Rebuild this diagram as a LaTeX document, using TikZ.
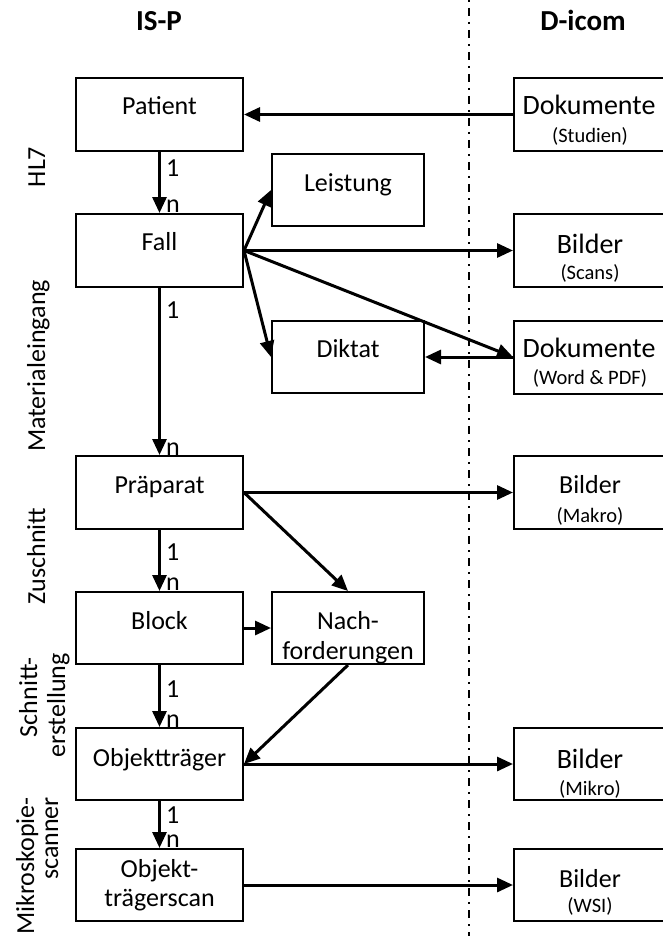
\documentclass[tikz,border=0pt]{standalone}
\usepackage{fontspec}
\setmainfont{Carlito}
\usetikzlibrary{arrows.meta,calc}
\begin{document}
\begin{tikzpicture}[x=1pt,y=-1pt,
  boxL/.style={draw, line width=2pt, minimum width=167pt, minimum height=73pt, inner sep=0pt},
  boxM/.style={draw, line width=2pt, minimum width=152pt, minimum height=72pt, inner sep=0pt},
  boxR/.style={draw, line width=2pt, minimum width=152pt, minimum height=73pt, inner sep=0pt},
  txt/.style={font=\fontsize{26}{30}\selectfont, inner sep=0pt, anchor=base},
  txtbig/.style={font=\fontsize{28}{32}\selectfont, inner sep=0pt, anchor=base},
  txtsmall/.style={font=\fontsize{20.5}{24}\selectfont, inner sep=0pt, anchor=base},
  ttl/.style={font=\bfseries\fontsize{29}{34}\selectfont, inner sep=0pt, anchor=base},
  card/.style={font=\fontsize{26}{30}\selectfont, inner sep=0pt, anchor=base west},
  side/.style={font=\fontsize{26}{30}\selectfont, inner sep=0pt, rotate=90},
  arr/.style={line width=3pt, -{Triangle[length=16pt,width=14pt]}},
  sep/.style={line width=1.7pt, dash pattern=on 2pt off 6pt on 8pt off 6pt}
]
\useasboundingbox (0,0) rectangle (662,936);
\fill[white] (0,0) rectangle (662,936);

% separator
\coordinate (septop) at (469,0);
\coordinate (sepbot) at (469,936);
\draw[sep] (septop) -- (sepbot);

% titles
\node[ttl] (tisp) at (159,31) {IS-P};
\node[ttl] (tdicom) at (583,31) {D-icom};

% left column boxes
\node[boxL] (patient) at (159.5,114.5) {};
\node[boxL] (fall) at (159.5,250.5) {};
\node[boxL] (praep) at (159.5,492.5) {};
\node[boxL, minimum height=72pt] (block) at (159.5,628) {};
\node[boxL, minimum height=72pt] (objt) at (159.5,764) {};
\node[boxL, minimum height=72pt] (scan) at (159.5,885) {};

% middle column boxes
\node[boxM] (leist) at (348,190) {};
\node[boxM] (diktat) at (348,357) {};
\node[boxM] (nach) at (348,628) {};

% right column boxes
\node[boxR] (dok1) at (590,114.5) {};
\node[boxR] (bild1) at (590,250.5) {};
\node[boxR] (dok2) at (590,357) {};
\node[boxR] (bild2) at (590,492.5) {};
\node[boxR, minimum height=72pt] (bild3) at (590,764) {};
\node[boxR, minimum height=72pt] (bild4) at (590,885) {};

% box texts
\node[txt] (tpatient) at (159.5,115) {Patient};
\node[txt] (tfall) at (159.5,250) {Fall};
\node[txt] (tleist) at (348,191) {Leistung};
\node[txt] (tdiktat) at (348,357) {Diktat};
\node[txt] (tpraep) at (159.5,493) {Präparat};
\node[txt] (tblock) at (159.5,629) {Block};
\node[txt] (tnach1) at (348,629) {Nach-};
\node[txt] (tnach2) at (348,659) {forderungen};
\node[txt] (tobjt) at (159.5,766) {Objektträger};
\node[txt] (tscan1) at (159.5,877) {Objekt-};
\node[txt] (tscan2) at (159.5,906) {trägerscan};

\node[txtbig] (tdok1) at (589,115) {Dokumente};
\node[txtsmall] (tdok1b) at (590,143) {(Studien)};
\node[txtbig] (tbild1) at (590,253) {Bilder};
\node[txtsmall] (tbild1b) at (590,279) {(Scans)};
\node[txtbig] (tdok2) at (589,357) {Dokumente};
\node[txtsmall] (tdok2b) at (590,384) {(Word \& PDF)};
\node[txt] (tbild2) at (590,493) {Bilder};
\node[txtsmall] (tbild2b) at (590,522) {(Makro)};
\node[txtbig] (tbild3) at (590,768) {Bilder};
\node[txtsmall] (tbild3b) at (590,795) {(Mikro)};
\node[txt] (tbild4) at (590,887) {Bilder};
\node[txtsmall] (tbild4b) at (590,912) {(WSI)};

% side labels
\node[side, anchor=base] (shl7) at (45,167) {HL7};
\node[side, anchor=base] (smat) at (45,366) {Materialeingang};
\node[side, anchor=base] (szu) at (45,556) {Zuschnitt};
\node[side, anchor=base east] (ssch1) at (37,657) {Schnitt-};
\node[side, anchor=base east] (ssch2) at (65,653) {erstellung};
\node[side, anchor=base east] (smik1) at (34,797) {Mikroskopie-};
\node[side, anchor=base east] (smik2) at (58,797) {scanner};

% connectors
\draw[arr] (dok1.west) -- (patient.east);
\draw[arr] (patient.south) -- (fall.north);
\draw[arr] (fall.east) -- (leist.west);
\draw[arr] (fall.east) -- (diktat.west);
\draw[arr] (fall.east) -- (bild1.west);
\draw[arr] (fall.east) -- (dok2.west);
\draw[arr] (dok2.west) -- (diktat.east);
\draw[arr] (fall.south) -- (praep.north);
\draw[arr] (praep.east) -- (bild2.west);
\draw[arr] (praep.east) -- (nach.north);
\draw[arr] (praep.south) -- (block.north);
\draw[arr] (block.east) -- (nach.west);
\draw[arr] (block.south) -- (objt.north);
\draw[arr] (nach.south) -- (objt.east);
\draw[arr] (objt.east) -- (bild3.west);
\draw[arr] (objt.south) -- (scan.north);
\draw[arr] (scan.east) -- (bild4.west);

% cardinalities
\node[card] (c1a) at (166,176) {1};
\node[card] (c1b) at (166,212) {n};
\node[card] (c2a) at (166,318) {1};
\node[card] (c2b) at (166,455) {n};
\node[card] (c3a) at (166,560) {1};
\node[card] (c3b) at (166,590) {n};
\node[card] (c4a) at (166,697) {1};
\node[card] (c4b) at (166,727) {n};
\node[card] (c5a) at (166,823) {1};
\node[card] (c5b) at (166,847) {n};
\end{tikzpicture}
\end{document}
